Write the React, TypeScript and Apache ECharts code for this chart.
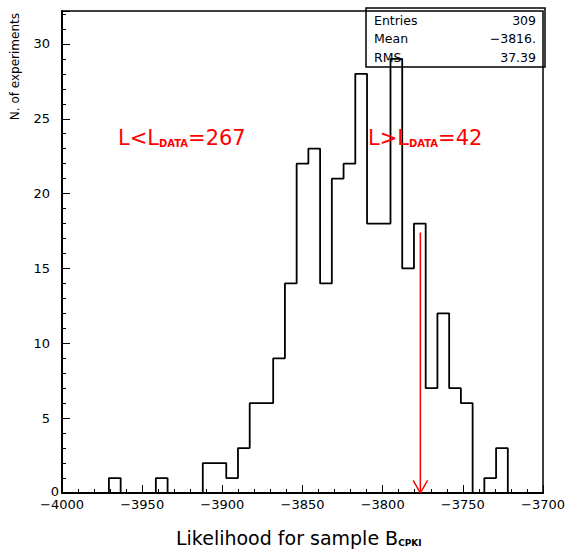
import React, { useEffect, useRef } from 'react';
import * as echarts from 'echarts';

// Histogram definition (41 equal bins from HIST_MIN to HIST_MAX)
const HIST_MIN = -4000;
const HIST_MAX = -3700;
const counts = [
  0, 0, 0, 0, 1, 0, 0, 0, 1, 0,
  0, 0, 2, 2, 1, 3, 6, 6, 9, 14,
  22, 23, 14, 21, 22, 28, 18, 18, 29, 15,
  18, 7, 12, 7, 6, 0, 1, 3, 0, 0,
  0,
];

const X_MIN = -4000;
const X_MAX = -3700;
const X_STEP = 50;
const Y_MIN = 0;
const Y_MAX = 32.2;
const Y_STEP = 5;

const statLabels = ['Entries', 'Mean', 'RMS'];
const statValues = ['309', '\u22123816.', '37.39'];

const arrowX = -3776.5;
const arrowTop = 17.4;
const headHalfWidth = 4.5;
const headHeight = 0.85;

const leftText = ['L<L', 'DATA', '=267'];
const rightText = ['L>L', 'DATA', '=42'];
const xTitle = ['Likelihood for sample B', 'CPKI'];
const yTitle = 'N. of experiments';

const FONT = 'DejaVu Sans';

function buildOutline(): number[][] {
  const n = counts.length;
  const w = (HIST_MAX - HIST_MIN) / n;
  const pts: number[][] = [];
  for (let k = 0; k < n; k++) {
    const x0 = HIST_MIN + k * w;
    const x1 = HIST_MIN + (k + 1) * w;
    pts.push([x0, counts[k]]);
    pts.push([x1, counts[k]]);
  }
  return pts;
}

const minus = (v: number) => String(v).replace('-', '\u2212');

export default function App() {
  const ref = useRef<HTMLDivElement>(null);
  useEffect(() => {
    document.body.style.margin = '0';
    if (!ref.current) return;
    const chart = echarts.init(ref.current, undefined, { renderer: 'svg' });
    const red = '#ff0000';
    const subRich = (size: number, bsize: number, color: string) => ({
      a: { fontSize: size, fontFamily: FONT, fill: color, color },
      b: { fontSize: bsize, fontFamily: FONT, fontWeight: 'bold', fill: color, color, verticalAlign: 'bottom', lineHeight: size },
    });
    const graphics: any[] = [
      {
        type: 'text', x: 118, y: 138, z: 100,
        style: {
          text: `{a|${leftText[0]}}{b|${leftText[1]}}{a|${leftText[2]}}`,
          rich: subRich(21, 10, red),
          textAlign: 'left', align: 'left', textVerticalAlign: 'middle', verticalAlign: 'middle',
        },
      },
      {
        type: 'text', x: 368, y: 138, z: 100,
        style: {
          text: `{a|${rightText[0]}}{b|${rightText[1]}}{a|${rightText[2]}}`,
          rich: subRich(21, 10, red),
          textAlign: 'left', align: 'left', textVerticalAlign: 'middle', verticalAlign: 'middle',
        },
      },
      {
        type: 'text', x: 176, y: 538, z: 100,
        style: {
          text: `{a|${xTitle[0]}}{b|${xTitle[1]}}`,
          rich: subRich(19, 9, '#000'),
          textAlign: 'left', align: 'left', textVerticalAlign: 'middle', verticalAlign: 'middle',
        },
      },
      {
        type: 'text', x: 15, y: 13, rotation: Math.PI / 2, z: 100,
        style: {
          text: yTitle, font: `12px "${FONT}"`, fill: '#000',
          textAlign: 'right', align: 'right', textVerticalAlign: 'middle', verticalAlign: 'middle',
        },
      },
      {
        type: 'text', x: 55, y: 491, z: 100,
        style: {
          text: '0', font: `13px "${FONT}"`, fill: '#000',
          textAlign: 'center', align: 'center', textVerticalAlign: 'middle', verticalAlign: 'middle',
        },
      },
      {
        type: 'rect', z: 90,
        shape: { x: 366, y: 8, width: 179, height: 59 },
        style: { fill: 'none', stroke: '#000', lineWidth: 1.5 },
      },
    ];
    statLabels.forEach((lab, i) => {
      graphics.push({
        type: 'text', x: 374, y: 20 + i * 18.5, z: 100,
        style: { text: lab, font: `12.5px "${FONT}"`, fill: '#000', textAlign: 'left', align: 'left', textVerticalAlign: 'middle', verticalAlign: 'middle' },
      });
      graphics.push({
        type: 'text', x: 536, y: 20 + i * 18.5, z: 100,
        style: { text: statValues[i], font: `12.5px "${FONT}"`, fill: '#000', textAlign: 'right', align: 'right', textVerticalAlign: 'middle', verticalAlign: 'middle' },
      });
    });

    chart.setOption({
      animation: false,
      grid: {
        left: 62, right: 22, top: 11, bottom: 60,
        show: true, borderColor: '#000', borderWidth: 1.5, backgroundColor: 'transparent',
      },
      xAxis: {
        type: 'value', min: X_MIN, max: X_MAX, interval: X_STEP,
        axisLine: { show: true, lineStyle: { color: '#000', width: 2 } },
        axisTick: { show: true, inside: true, length: 8, lineStyle: { color: '#000', width: 1 } },
        minorTick: { show: true, splitNumber: 5, length: 4, lineStyle: { color: '#000', width: 1 } },
        axisLabel: { margin: 5, color: '#000', fontFamily: FONT, fontSize: 13, formatter: (v: number) => minus(v), showMinLabel: true, showMaxLabel: true },
        splitLine: { show: false },
      },
      yAxis: [
        {
          type: 'value', min: Y_MIN, max: Y_MAX, interval: Y_STEP, position: 'left',
          axisLine: { show: true, lineStyle: { color: '#000', width: 2 } },
          axisTick: { show: true, inside: true, length: 8, lineStyle: { color: '#000', width: 1 } },
          axisLabel: {
            margin: 12, color: '#000', fontFamily: FONT, fontSize: 13,
            formatter: (v: number) => (v > 0 && v % Y_STEP === 0 ? String(v) : ''),
          },
          splitLine: { show: false },
        },
        {
          type: 'value', min: Y_MIN, max: Y_MAX, interval: 1, position: 'left', offset: 0,
          axisLine: { show: false },
          axisTick: { show: true, inside: true, length: 4, lineStyle: { color: '#000', width: 1 } },
          axisLabel: { show: false },
          splitLine: { show: false },
        },
      ],
      series: [
        {
          type: 'line', data: buildOutline(), yAxisIndex: 0, symbol: 'none', showSymbol: false,
          lineStyle: { color: '#000', width: 1.8 }, z: 5, silent: true,
        },
        {
          type: 'line', data: [[arrowX, arrowTop], [arrowX, 0]], yAxisIndex: 0, symbol: 'none',
          lineStyle: { color: red, width: 1.5 }, z: 6, clip: false, silent: true,
        },
        {
          type: 'line', data: [[arrowX - headHalfWidth, headHeight], [arrowX, 0], [arrowX + headHalfWidth, headHeight]],
          yAxisIndex: 0, symbol: 'none', lineStyle: { color: red, width: 1.5 }, z: 6, clip: false, silent: true,
        },
      ],
      graphic: graphics,
    });
    return () => chart.dispose();
  }, []);
  return <div ref={ref} style={{ width: 568, height: 553 }} />;
}
